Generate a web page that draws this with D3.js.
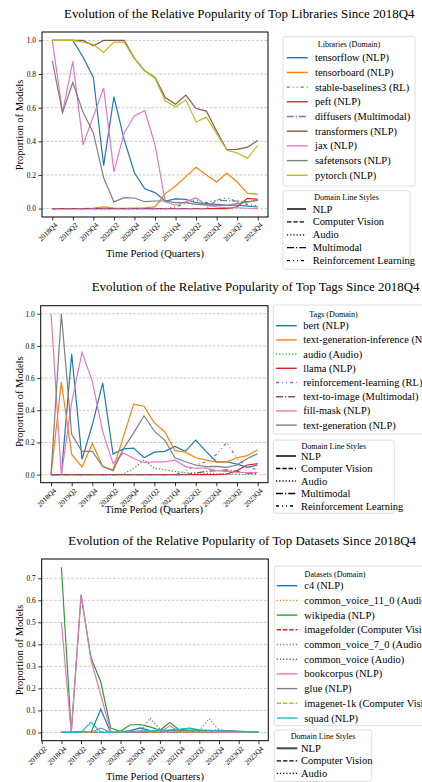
<!DOCTYPE html>
<html><head><meta charset="utf-8">
<script src="https://cdn.jsdelivr.net/npm/d3@7"></script>
<style>body{margin:0;background:#fff}svg{display:block}</style>
</head><body><svg id="c" width="422" height="782"></svg>
<script>
// ---------- DATA ----------
const quarters = ["2018Q4","2019Q1","2019Q2","2019Q3","2019Q4","2020Q1","2020Q2","2020Q3","2020Q4",
  "2021Q1","2021Q2","2021Q3","2021Q4","2022Q1","2022Q2","2022Q3","2022Q4","2023Q1","2023Q2","2023Q3","2023Q4"];
const datasetAxisQuarters = ["2018Q2","2018Q3"].concat(quarters);
const yTicksShare = [0,0.2,0.4,0.6,0.8,1.0];
const yTicksDatasets = [0,0.1,0.2,0.3,0.4,0.5,0.6,0.7];

const titles = ["Evolution of the Relative Popularity of Top Libraries Since 2018Q4",
  "Evolution of the Relative Popularity of Top Tags Since 2018Q4",
  "Evolution of the Relative Popularity of Top Datasets Since 2018Q4"];
const legendTitles = ["Libraries (Domain)","Tags (Domain)","Datasets (Domain)"];
const domainStyles = ["NLP","Computer Vision","Audio","Multimodal","Reinforcement Learning"];
const datasetDomainStyles = ["NLP","Computer Vision","Audio"];

// Libraries
const libNames   = ["tensorflow","tensorboard","stable-baselines3","peft","diffusers","transformers","jax","safetensors","pytorch"];
const libDomains = ["NLP","NLP","RL","NLP","Multimodal","NLP","NLP","NLP","NLP"];
const libTensorflow  = [1.0,1.0,1.0,0.90,0.78,0.255,0.665,0.41,0.213,0.118,0.095,0.045,0.058,0.055,0.035,0.03,0.025,0.02,0.02,0.015,0.01];
const libTensorboard = [0,0,0,0,0.003,0.01,0.003,0.002,0.003,0.005,0.01,0.089,0.134,0.19,0.245,0.2,0.158,0.211,0.158,0.091,0.085];
const libStableBaselines3 = [0,0,0,0,0,0,0,0,0,0,0,0,0.01,0.03,0.05,0.035,0.05,0.065,0.04,0.025,0.015];
const libPeft        = [0,0,0,0,0,0,0,0,0,0,0,0,0,0,0,0,0,0,0.01,0.061,0.055];
const libDiffusers   = [0,0,0,0,0,0,0,0,0,0,0,0,0,0,0,0,0.05,0.047,0.045,0.04,0.047];
const libTransformers= [1,1,1,1,0.968,1,1,1,0.893,0.82,0.78,0.66,0.62,0.675,0.595,0.58,0.46,0.35,0.352,0.365,0.405];
const libJax         = [1.0,0.572,0.876,0.38,0.55,0.718,0.22,0.45,0.552,0.582,0.38,0.04,0.02,0.04,0.065,0.02,0.01,0.005,0.005,0.002,0.0];
const libSafetensors = [0.878,0.57,0.75,0.572,0.45,0.183,0.04,0.065,0.063,0.041,0.045,0.045,0.035,0.035,0.025,0.022,0.02,0.02,0.03,0.04,0.05];
const libPytorch     = [1,1,1,0.99,0.976,0.929,0.99,0.99,0.89,0.82,0.775,0.641,0.605,0.645,0.515,0.544,0.446,0.347,0.331,0.30,0.375];

// Tags
const tagNames   = ["bert","text-generation-inference","audio","llama","reinforcement-learning","text-to-image","fill-mask","text-generation"];
const tagDomains = ["NLP","NLP","Audio","NLP","RL","Multimodal","NLP","NLP"];
const tagBert    = [0,0,0.75,0.095,0.31,0.57,0.128,0.16,0.165,0.105,0.14,0.145,0.175,0.145,0.215,0.145,0.08,0.08,0.065,0.045,0.06];
const tagTGI     = [0,0.575,0.126,0.048,0.194,0.05,0.03,0.235,0.438,0.425,0.322,0.267,0.149,0.14,0.105,0.09,0.08,0.08,0.105,0.118,0.155];
const tagAudio   = [0,0,0,0,0,0,0,0.003,0.04,0.09,0.04,0.03,0.02,0.012,0.01,0.008,0.005,0.004,0.003,0.002,0.001];
const tagLlama   = [0,0,0,0,0,0,0,0,0,0,0,0,0,0,0,0,0,0.003,0.025,0.06,0.068];
const tagRL      = [0,0,0,0,0,0,0,0,0,0,0,0,0,0.02,0.06,0.08,0.125,0.2,0.1,0.05,0.03];
const tagT2I     = [0,0,0,0,0,0,0,0,0,0,0,0,0,0,0.01,0.02,0.025,0.03,0.02,0.01,0.005];
const tagFillMask= [1.0,0,0.45,0.76,0.58,0.267,0.07,0.134,0.10,0.074,0.08,0.08,0.09,0.05,0.04,0.04,0.025,0.02,0.015,0.012,0.012];
const tagTextGen = [0,1.0,0.25,0.145,0.145,0.05,0.025,0.16,0.26,0.366,0.27,0.215,0.105,0.08,0.06,0.05,0.052,0.045,0.06,0.1,0.13];

// Datasets (values from 2018Q4)
const dsNames   = ["c4","common_voice_11_0","wikipedia","imagefolder","common_voice_7_0","common_voice","bookcorpus","glue","imagenet-1k","squad"];
const dsDomains = ["NLP","Audio","NLP","Computer Vision","Audio","Audio","NLP","NLP","Computer Vision","NLP"];
const dsC4        = [0,0,0,0,0.105,0,0.003,0.008,0.021,0.008,0.005,0.008,0.012,0.018,0.01,0.008,0.006,0.005,0.004,0.002,0.001];
const dsCV11      = [0,0,0,0,0,0,0,0,0,0,0,0,0,0,0.002,0.004,0.015,0.005,0.002,0.001,0];
const dsWikipedia = [0.75,0,0.623,0.34,0.229,0.02,0.005,0.035,0.036,0.025,0.01,0.045,0.01,0.01,0.01,0.008,0.006,0.005,0.003,0.001,0];
const dsImagefolder=[0,0,0,0,0,0,0,0,0,0,0,0.004,0.002,0.002,0.001,0.001,0.001,0,0,0,0];
const dsCV7       = [0,0,0,0,0,0,0,0,0,0,0,0,0,0,0.008,0.062,0.01,0,0,0,0];
const dsCV        = [0,0,0,0,0,0,0,0,0.003,0.065,0.015,0,0,0,0,0,0,0,0,0,0];
const dsBookcorpus= [0.5,0,0.627,0.33,0.17,0.005,0.002,0.002,0.003,0.005,0.003,0.03,0.003,0.002,0.002,0.001,0.001,0,0,0,0];
const dsGlue      = [0,0,0.005,0,0.02,0,0.003,0.005,0.005,0.006,0.004,0.008,0.006,0.006,0.005,0.004,0.006,0.008,0.006,0.003,0.002];
const dsImagenet  = [0,0,0,0.002,0.003,0.002,0.003,0.003,0.004,0.003,0.003,0.004,0.003,0.003,0.003,0.004,0.003,0.002,0.002,0.001,0.001];
const dsSquad     = [0,0,0,0.047,0,0,0.002,0.004,0.006,0.008,0.01,0.012,0.015,0.02,0.012,0.01,0.008,0.006,0.004,0.002,0.001];

const tab10 = ["#1f77b4","#ff7f0e","#2ca02c","#d62728","#9467bd","#8c564b","#e377c2","#7f7f7f","#bcbd22","#17becf"];
const dashFor = {"NLP":null,"Computer Vision":"4.4,1.9","Audio":"1.2,2","Multimodal":"7,2,1.2,2","RL":"3,3,1,3,1,3","Reinforcement Learning":"3,3,1,3,1,3"};

// ---------- DRAW ----------
const FONT = '"Liberation Serif","Times New Roman",serif';
const svg = d3.select("#c");
svg.append("rect").attr("width",422).attr("height",782).attr("fill","#fff");

function fitSize(str, target){
  const t = svg.append("text").attr("font-family",FONT).attr("font-size",100).text(str);
  const w = t.node().getComputedTextLength(); t.remove();
  return 100*target/w;
}
const titleSize = fitSize(titles[0], 351);
const labelSize = fitSize("Time Period (Quarters)", 98);
const tickSize  = 7.4;
const xTickSize = 7.2;
const legSize   = fitSize("tensorflow (NLP)", 74);
const legTitleSize = fitSize("Libraries (Domain)", 62.7);

function txt(g, x, y, s, size, anchor){
  return g.append("text").attr("x",x).attr("y",y).attr("font-family",FONT).attr("font-size",size)
    .attr("text-anchor",anchor||"start").attr("dominant-baseline","central").attr("fill","#000").text(s);
}

function drawChart(cfg){
  const g = svg.append("g");
  const x = d3.scaleLinear().domain(cfg.xDomain).range([cfg.x0,cfg.x1]);
  const y = d3.scaleLinear().domain(cfg.yDomain).range([cfg.y1,cfg.y0]);
  // grid
  g.append("g").selectAll("line").data(cfg.yTicks).join("line")
    .attr("x1",cfg.x0).attr("x2",cfg.x1).attr("y1",d=>y(d)).attr("y2",d=>y(d))
    .attr("stroke","#b0b0b0").attr("stroke-width",0.7).attr("stroke-dasharray","2.6,1.6");
  // lines
  const line = d3.line().x((d,i)=>x(i+cfg.offset)).y(d=>y(d));
  cfg.series.forEach((s,k)=>{
    g.append("path").datum(s.values).attr("d",line).attr("fill","none")
      .attr("stroke",tab10[k]).attr("stroke-width",1.2)
      .attr("stroke-dasharray",dashFor[s.domain]);
  });
  // axes
  const tickIdx = cfg.axisLabels.map((d,i)=>i).filter(i=>i%2===0);
  const xa = g.append("g").attr("transform",`translate(0,${cfg.y1})`)
    .call(d3.axisBottom(x).tickValues(tickIdx).tickFormat(v=>cfg.axisLabels[Math.round(v)]).tickSize(3.5).tickPadding(2));
  xa.select(".domain").remove();
  xa.selectAll("line").attr("stroke","#000").attr("stroke-width",0.8);
  xa.selectAll("text").attr("font-family",FONT).attr("font-size",xTickSize).attr("fill","#000")
    .attr("text-anchor","end").attr("dy",null).attr("dominant-baseline","central")
    .attr("y",0).attr("x",0).attr("transform","translate(3.5,7) rotate(-45)");
  const ya = g.append("g").attr("transform",`translate(${cfg.x0},0)`)
    .call(d3.axisLeft(y).tickValues(cfg.yTicks).tickFormat(d3.format(".1f")).tickSize(3.5).tickPadding(2.5));
  ya.select(".domain").remove();
  ya.selectAll("line").attr("stroke","#000").attr("stroke-width",0.8);
  ya.selectAll("text").attr("font-family",FONT).attr("font-size",tickSize).attr("fill","#000");
  // spines
  g.append("rect").attr("x",cfg.x0).attr("y",cfg.y0).attr("width",cfg.x1-cfg.x0).attr("height",cfg.y1-cfg.y0)
    .attr("fill","none").attr("stroke","#000").attr("stroke-width",1);
  // titles / labels
  txt(g, cfg.titleX, cfg.titleY, cfg.title, titleSize);
  txt(g, cfg.xlabX, cfg.xlabY, "Time Period (Quarters)", labelSize, "middle");
  txt(g, 0, 0, "Proportion of Models", labelSize, "middle").attr("transform",`translate(${cfg.ylabX},${cfg.ylabY}) rotate(-90)`);
  // legends
  const L = cfg.leg;
  g.append("rect").attr("x",L.x).attr("y",L.y).attr("width",L.w).attr("height",L.h).attr("rx",2)
    .attr("fill","#fff").attr("stroke","#d5d5d5").attr("stroke-width",0.8);
  txt(g, L.tcx, L.ty, cfg.legTitle, legTitleSize, "middle");
  cfg.series.forEach((s,k)=>{
    const yy = L.fy + k*L.step;
    g.append("line").attr("x1",L.lx0).attr("x2",L.lx1).attr("y1",yy).attr("y2",yy)
      .attr("stroke",tab10[k]).attr("stroke-width",1.4).attr("stroke-dasharray",dashFor[s.domain]);
    txt(g, L.tx, yy, `${s.name} (${s.domain})`, legSize);
  });
  const D = cfg.leg2;
  g.append("rect").attr("x",D.x).attr("y",D.y).attr("width",D.w).attr("height",D.h).attr("rx",2)
    .attr("fill","#fff").attr("stroke","#d5d5d5").attr("stroke-width",0.8);
  txt(g, D.x+D.w/2, D.ty, "Domain Line Styles", legTitleSize, "middle");
  cfg.styles.forEach((st,k)=>{
    const yy = D.fy + k*D.step;
    g.append("line").attr("x1",D.lx0).attr("x2",D.lx1).attr("y1",yy).attr("y2",yy)
      .attr("stroke", st==="NLP" ? "#444" : "#000").attr("stroke-width", st==="NLP"?2:1.3)
      .attr("stroke-dasharray",dashFor[st]);
    txt(g, D.tx, yy, st, legSize);
  });
}

function mk(names, domains, arrs){ return names.map((n,i)=>({name:n, domain:domains[i], values:arrs[i]})); }

drawChart({
  x0:42, x1:268, y0:32, y1:217, xDomain:[-1,21], yDomain:[-0.05,1.05], yTicks:yTicksShare,
  offset:0, axisLabels:quarters,
  series: mk(libNames, libDomains, [libTensorflow,libTensorboard,libStableBaselines3,libPeft,libDiffusers,libTransformers,libJax,libSafetensors,libPytorch]),
  title:titles[0], titleX:64, titleY:13, xlabX:155, xlabY:253, ylabX:19, ylabY:125,
  legTitle:legendTitles[0],
  leg:{x:283,y:36.7,w:132,h:149.3,ty:44.5,tcx:349,fy:57.7,step:14.7,lx0:286.7,lx1:307.7,tx:315},
  leg2:{x:283,y:190.7,w:127,h:78.6,ty:197.5,fy:209,step:12.9,lx0:287,lx1:306,tx:312.7},
  styles:domainStyles
});
drawChart({
  x0:40.7, x1:268, y0:305.7, y1:482.7, xDomain:[-1,21], yDomain:[-0.05,1.05], yTicks:yTicksShare,
  offset:0, axisLabels:quarters,
  series: mk(tagNames, tagDomains, [tagBert,tagTGI,tagAudio,tagLlama,tagRL,tagT2I,tagFillMask,tagTextGen]),
  title:titles[1], titleX:91.7, titleY:286.7, xlabX:154, xlabY:509.3, ylabX:19, ylabY:401.7,
  legTitle:legendTitles[1],
  leg:{x:273.3,y:305,w:160,h:129,ty:314,tcx:333.5,fy:325.7,step:14.2,lx0:276,lx1:296.7,tx:303.3},
  leg2:{x:273.3,y:440,w:121,h:73.3,ty:446,fy:456,step:12.5,lx0:276,lx1:296,tx:301},
  styles:domainStyles
});
drawChart({
  x0:41.7, x1:268.3, y0:559, y1:740.7, xDomain:[0,23], yDomain:[-0.0375,0.7875], yTicks:yTicksDatasets,
  offset:2, axisLabels:datasetAxisQuarters,
  series: mk(dsNames, dsDomains, [dsC4,dsCV11,dsWikipedia,dsImagefolder,dsCV7,dsCV,dsBookcorpus,dsGlue,dsImagenet,dsSquad]),
  title:titles[2], titleX:68.3, titleY:540, xlabX:155, xlabY:776, ylabX:19, ylabY:650,
  legTitle:legendTitles[2],
  leg:{x:274.3,y:566,w:160,h:159.7,ty:574,tcx:335,fy:585.7,step:14.7,lx0:276.7,lx1:297.3,tx:304.3},
  leg2:{x:274.3,y:730,w:97.4,h:51.5,ty:736.7,fy:748.3,step:12.5,lx0:276.7,lx1:297.3,tx:301},
  styles:datasetDomainStyles
});
</script></body></html>
